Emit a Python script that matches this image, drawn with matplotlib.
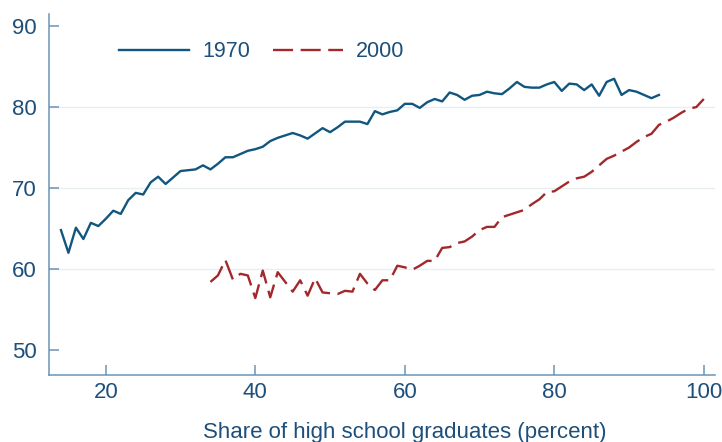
import matplotlib
matplotlib.use("Agg")
import matplotlib.pyplot as plt

# ---- data --------------------------------------------------------------------
x_1970 = list(range(14, 95))
y_1970 = [
    64.8, 62.0, 65.1, 63.7, 65.7, 65.3, 66.2, 67.2, 66.8, 68.5,
    69.4, 69.2, 70.7, 71.4, 70.5, 71.3, 72.1, 72.2, 72.3, 72.8,
    72.3, 73.0, 73.8, 73.8, 74.2, 74.6, 74.8, 75.1, 75.8, 76.2,
    76.5, 76.8, 76.5, 76.1, 76.75, 77.4, 76.9, 77.5, 78.2, 78.2,
    78.2, 77.9, 79.5, 79.1, 79.4, 79.6, 80.4, 80.4, 79.9, 80.6,
    81.0, 80.7, 81.8, 81.5, 80.9, 81.4, 81.5, 81.9, 81.7, 81.6,
    82.3, 83.1, 82.5, 82.4, 82.4, 82.8, 83.1, 82.0, 82.9, 82.8,
    82.1, 82.8, 81.4, 83.1, 83.5, 81.5, 82.1, 81.9, 81.5, 81.1,
    81.5,
]

x_2000 = list(range(34, 101))
y_2000 = [
    58.4, 59.2, 61.1, 58.7, 59.4, 59.2, 56.4, 59.8, 56.5, 59.6,
    58.4, 57.2, 58.6, 56.7, 58.85, 57.1, 57.0, 56.9, 57.3, 57.2,
    59.4, 58.2, 57.4, 58.6, 58.6, 60.4, 60.2, 59.9, 60.4, 61.0,
    61.0, 62.6, 62.7, 63.2, 63.4, 64.0, 64.8, 65.2, 65.2, 66.4,
    66.7, 67.0, 67.3, 68.0, 68.6, 69.5, 69.6, 70.2, 70.8, 71.2,
    71.4, 72.0, 72.8, 73.6, 74.0, 74.5, 75.0, 75.7, 76.3, 76.7,
    77.8, 78.2, 78.7, 79.3, 79.8, 80.0, 81.0,
]

x_ticks = [20, 40, 60, 80, 100]
y_ticks = [50, 60, 70, 80, 90]
grid_levels = [60, 70, 80]

# ---- style -------------------------------------------------------------------
BLUE = "#11567f"
RED = "#a3282b"
TEXT = "#1d4f7a"
AXIS = "#6b93b6"
GRID = "#e9eff1"

plt.rcParams["font.family"] = ["Liberation Sans", "DejaVu Sans"]

fig = plt.figure(figsize=(7.22, 4.42), dpi=100)
ax = fig.add_axes([49 / 722, 1 - 375 / 442, 666 / 722, 361 / 442])

for lvl in grid_levels:
    ax.axhline(lvl, color=GRID, lw=1.0, zorder=0)

ax.plot(x_1970, y_1970, color=BLUE, lw=1.7, label="1970")
ax.plot(x_2000, y_2000, color=RED, lw=1.7, dashes=(8.5, 3.2), label="2000")

ax.set_xlim(12.4, 101.5)
ax.set_ylim(46.9, 91.5)
ax.set_xticks(x_ticks)
ax.set_yticks(y_ticks)

for side in ("top", "right"):
    ax.spines[side].set_visible(False)
for side in ("left", "bottom"):
    ax.spines[side].set_color(AXIS)
    ax.spines[side].set_linewidth(1.1)

ax.tick_params(axis="both", direction="in", length=7, width=1.1, color=AXIS,
               labelcolor=TEXT, labelsize=16)
ax.tick_params(axis="x", pad=5)
ax.tick_params(axis="y", pad=9)

ax.set_xlabel("Share of high school graduates (percent)", fontsize=16,
              color=TEXT, labelpad=14)
ax.xaxis.label.set_x((405 - 49) / 666)

leg = ax.legend(loc="center left", bbox_to_anchor=(70 / 666, (375 - 51.7) / 361),
                ncol=2, frameon=False, fontsize=15.5, handlelength=3.25,
                handletextpad=0.6, columnspacing=1.1, borderpad=0,
                borderaxespad=0)
for t in leg.get_texts():
    t.set_color(TEXT)

fig.savefig("out.png", dpi=100)
